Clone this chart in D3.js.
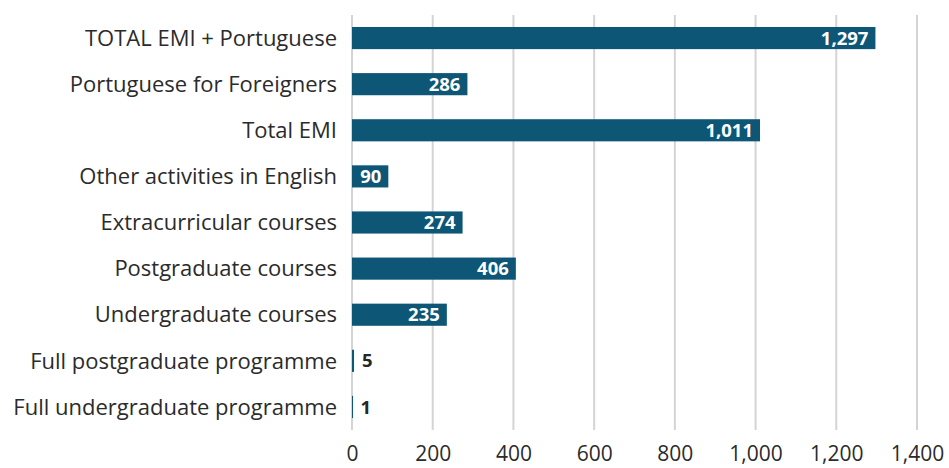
<!DOCTYPE html>
<html lang="en">
<head>
<meta charset="utf-8">
<title>EMI activities</title>
<script src="https://d3js.org/d3.v7.min.js"></script>
<style>
  body { margin: 0; background: #fff; }
  svg { display: block; }
  .cat { font-family: "Open Sans", sans-serif; font-size: 22px; fill: #2b2b2b; }
  .tick text { font-family: "Open Sans", sans-serif; font-size: 21px; fill: #2b2b2b; }
  .val { font-family: "Open Sans", sans-serif; font-size: 18.5px; font-weight: 700; }
</style>
</head>
<body>
<script>
var width = 949,
    height = 468;

var categories = [
  "TOTAL EMI + Portuguese",
  "Portuguese for Foreigners",
  "Total EMI",
  "Other activities in English",
  "Extracurricular courses",
  "Postgraduate courses",
  "Undergraduate courses",
  "Full postgraduate programme",
  "Full undergraduate programme"
];
var values = [1297, 286, 1011, 90, 274, 406, 235, 5, 1];
var xTicks = [0, 200, 400, 600, 800, 1000, 1200, 1400];

var plotLeft = 352, plotRight = 917, plotTop = 15, plotBottom = 430;

var svg = d3.select("body").append("svg")
    .attr("width", width)
    .attr("height", height);

var x = d3.scaleLinear().domain([0, 1400]).range([plotLeft, plotRight]);
var y = d3.scaleBand().domain(categories).range([plotTop, plotBottom]).paddingInner(0.52).paddingOuter(0.26);

// gridlines
svg.append("g").selectAll("line")
  .data(xTicks).enter().append("line")
    .attr("x1", function(d) { return x(d); })
    .attr("x2", function(d) { return x(d); })
    .attr("y1", plotTop)
    .attr("y2", plotBottom)
    .style("stroke", "#d4d4d4")
    .style("stroke-width", 2);

// x axis labels
var xAxis = d3.axisBottom(x).tickValues(xTicks).tickSize(0).tickPadding(0)
    .tickFormat(d3.format(","));
svg.append("g")
    .attr("transform", "translate(0," + 446 + ")")
    .call(xAxis)
    .call(function(g) { g.select(".domain").remove(); });

// bars
svg.append("g").selectAll("rect")
  .data(values).enter().append("rect")
    .attr("x", x(0))
    .attr("y", function(d, i) { return y(categories[i]); })
    .attr("width", function(d) { return Math.max(1, x(d) - x(0)); })
    .attr("height", y.bandwidth())
    .style("fill", "#0d5676");

// category labels
svg.append("g").selectAll("text")
  .data(categories).enter().append("text")
    .attr("class", "cat")
    .attr("x", 337)
    .attr("y", function(d) { return y(d) + y.bandwidth() / 2; })
    .attr("dy", "0.35em")
    .attr("text-anchor", "end")
    .text(function(d) { return d; });

// value labels
var fmt = d3.format(",");
svg.append("g").selectAll("text")
  .data(values).enter().append("text")
    .attr("class", "val")
    .attr("x", function(d) { return d < 50 ? x(d) + 8 : x(d) - 7; })
    .attr("y", function(d, i) { return y(categories[i]) + y.bandwidth() / 2; })
    .attr("dy", "0.36em")
    .attr("text-anchor", function(d) { return d < 50 ? "start" : "end"; })
    .style("fill", function(d) { return d < 50 ? "#262626" : "#ffffff"; })
    .text(function(d) { return fmt(d); });
</script>
</body>
</html>
